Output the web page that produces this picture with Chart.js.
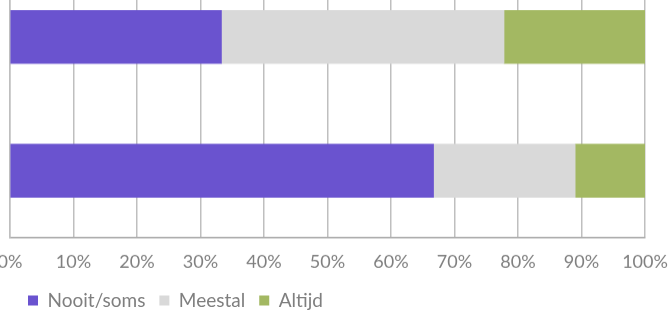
<!DOCTYPE html>
<html>
<head>
<meta charset="utf-8">
<script src="https://cdn.jsdelivr.net/npm/chart.js@4"></script>
<style>
  html, body { margin: 0; padding: 0; background: #fff; overflow: hidden; }
  body { width: 670px; height: 311px; position: relative; }
  #wrap { position: absolute; left: 0; top: -30px; width: 670px; height: 344.5px; }
</style>
</head>
<body>
<div id="wrap"><canvas id="chart"></canvas></div>
<script>
// --- data ---
const categories = ['Groep 1', 'Groep 2'];
const nooitSoms = [33.3, 66.7];
const meestal = [44.5, 22.3];
const altijd = [22.2, 11.0];
const xTicks = [0, 10, 20, 30, 40, 50, 60, 70, 80, 90, 100];

const textColor = '#7F7F7F';
Chart.defaults.font.family = "Lato, 'Open Sans', sans-serif";
Chart.defaults.color = textColor;

// nudge the legend a bit (tighter item spacing than Chart.js gives by default)
const legendNudge = {
    id: 'legendNudge',
    afterLayout(chart) {
        chart.legend.left += 4;
        chart.legend.top += 4.5;
    }
};

const ctx = document.getElementById('chart').getContext('2d');
new Chart(ctx, {
    type: 'bar',
    data: {
        labels: categories,
        datasets: [
            { label: 'Nooit/soms', data: nooitSoms, backgroundColor: '#6A53CF', barThickness: 53 },
            { label: 'Meestal', data: meestal, backgroundColor: '#D9D9D9', barThickness: 53 },
            { label: 'Altijd', data: altijd, backgroundColor: '#A3B862', barThickness: 53 }
        ]
    },
    options: {
        indexAxis: 'y',
        responsive: true,
        maintainAspectRatio: false,
        animation: false,
        layout: { padding: { left: 10, right: 25, top: 0, bottom: 0 } },
        scales: {
            x: {
                stacked: true,
                min: 0,
                max: 100,
                afterBuildTicks: (scale) => { scale.ticks = xTicks.map(v => ({ value: v })); },
                // keep the plot edges at 0% / 100% and drop the extra label padding
                afterFit: (scale) => { scale.paddingLeft = 0; scale.paddingRight = 0; scale.height = 34.6; },
                ticks: {
                    callback: v => v + '%',
                    font: { size: 18 },
                    color: textColor,
                    padding: 13,
                    maxRotation: 0
                },
                grid: { color: '#BFBFBF', lineWidth: 1.5, drawTicks: false },
                border: { color: '#A6A6A6', width: 1.5 }
            },
            y: {
                stacked: true,
                afterFit: (scale) => { scale.width = 0; scale.paddingTop = 0; scale.paddingBottom = 0; },
                ticks: { display: false },
                grid: { display: false, drawTicks: false },
                border: { color: '#BFBFBF', width: 1.5 }
            }
        },
        plugins: {
            legend: {
                position: 'bottom',
                align: 'start',
                labels: {
                    boxWidth: 10,
                    boxHeight: 10,
                    padding: 14,
                    color: textColor,
                    font: { size: 19 }
                }
            },
            tooltip: { enabled: false }
        }
    },
    plugins: [legendNudge]
});
</script>
</body>
</html>
